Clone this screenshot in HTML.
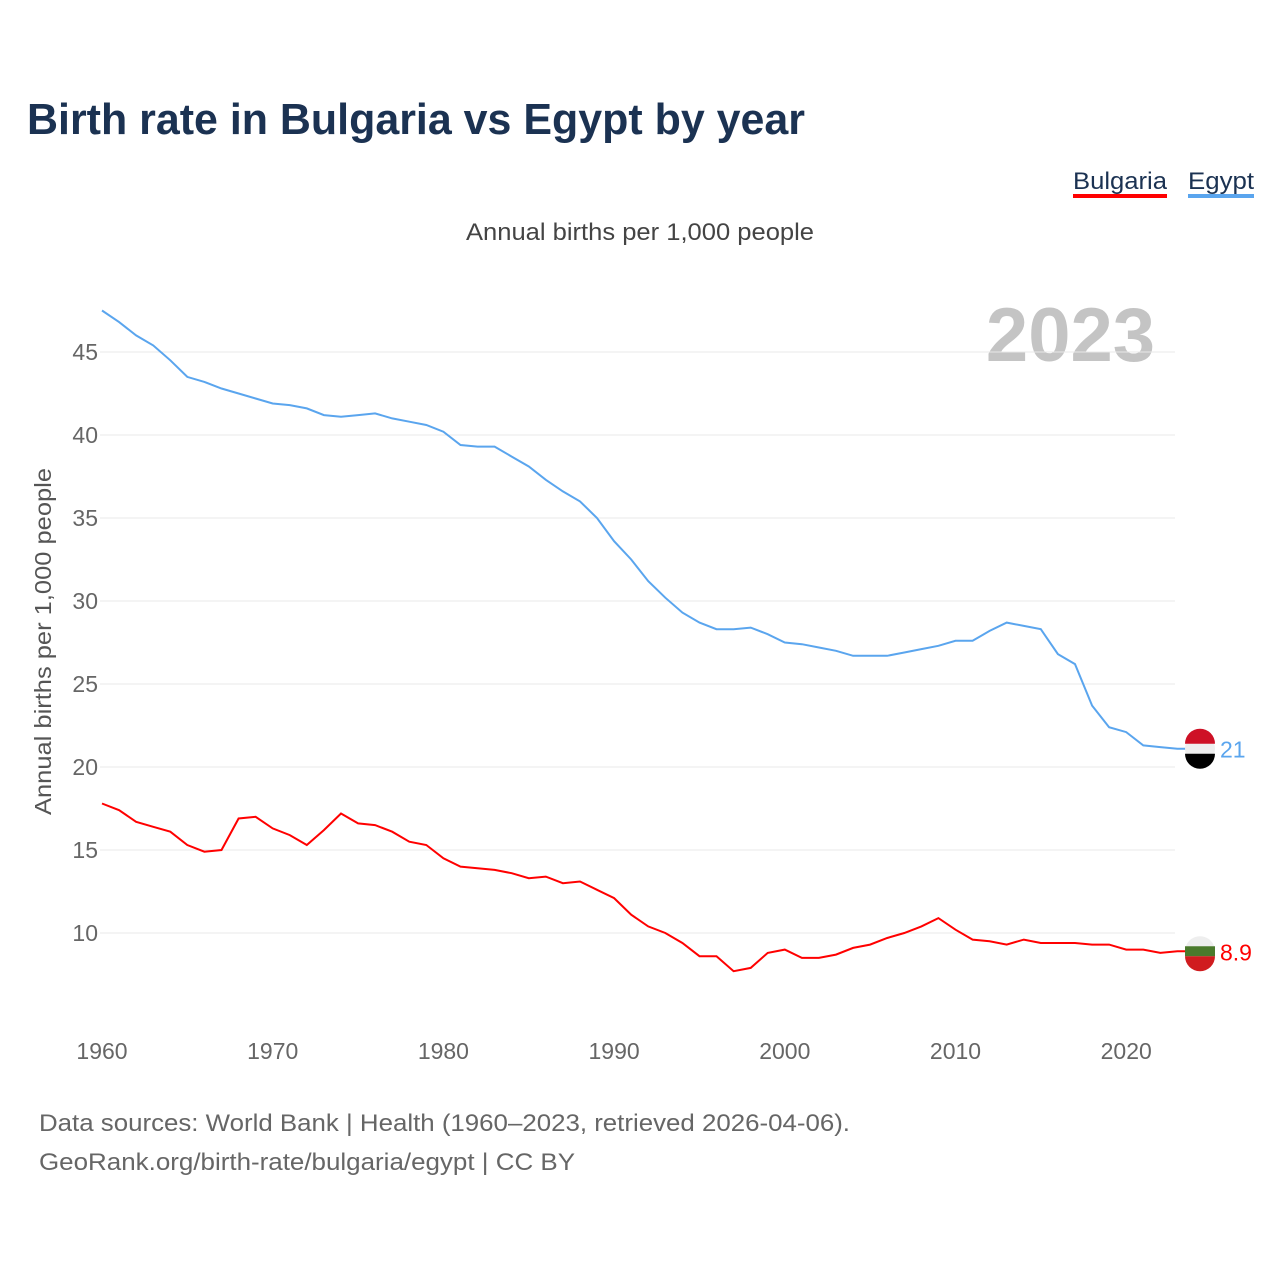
<!DOCTYPE html>
<html><head><meta charset="utf-8"><style>
body{margin:0;background:#fff;font-family:"Liberation Sans",sans-serif}
svg text{font-family:"Liberation Sans",sans-serif}
</style></head><body>
<svg id="chart" width="1280" height="1280" xmlns="http://www.w3.org/2000/svg">
<text x="27" y="134" font-size="44" font-weight="bold" fill="#1b3252" textLength="778" lengthAdjust="spacingAndGlyphs">Birth rate in Bulgaria vs Egypt by year</text>
<g><text x="1073" y="189" font-size="24" fill="#1b3252" textLength="94" lengthAdjust="spacingAndGlyphs">Bulgaria</text><rect x="1073" y="194" width="94" height="4" fill="#ff0000"/></g>
<g><text x="1188" y="189" font-size="24" fill="#1b3252" textLength="66" lengthAdjust="spacingAndGlyphs">Egypt</text><rect x="1188" y="194" width="66" height="4" fill="#5aa5ee"/></g>
<text x="466" y="240" font-size="24" fill="#444" textLength="348" lengthAdjust="spacingAndGlyphs">Annual births per 1,000 people</text>
<text x="1155" y="361" font-size="76" font-weight="bold" fill="#c4c4c4" text-anchor="end">2023</text>
<text transform="translate(51,815) rotate(-90)" font-size="23" fill="#555" textLength="347" lengthAdjust="spacingAndGlyphs">Annual births per 1,000 people</text>
<g id="grid"></g><g id="yticks"></g><g id="xticks"></g><g id="series"></g>
<text x="39" y="1131" font-size="24" fill="#666" textLength="811" lengthAdjust="spacingAndGlyphs">Data sources: World Bank | Health (1960–2023, retrieved 2026-04-06).</text>
<text x="39" y="1170" font-size="24" fill="#666" textLength="536" lengthAdjust="spacingAndGlyphs">GeoRank.org/birth-rate/bulgaria/egypt | CC BY</text>
</svg>
<script>
const years=[];for(let y=1960;y<=2023;y++)years.push(y);
const egypt=[47.5,46.8,46.0,45.4,44.5,43.5,43.2,42.8,42.5,42.2,41.9,41.8,41.6,41.2,41.1,41.2,41.3,41.0,40.8,40.6,40.2,39.4,39.3,39.3,38.7,38.1,37.3,36.6,36.0,35.0,33.6,32.5,31.2,30.2,29.3,28.7,28.3,28.3,28.4,28.0,27.5,27.4,27.2,27.0,26.7,26.7,26.7,26.9,27.1,27.3,27.6,27.6,28.2,28.7,28.5,28.3,26.8,26.2,23.7,22.4,22.1,21.3,21.2,21.1];
const bulgaria=[17.8,17.4,16.7,16.4,16.1,15.3,14.9,15.0,16.9,17.0,16.3,15.9,15.3,16.2,17.2,16.6,16.5,16.1,15.5,15.3,14.5,14.0,13.9,13.8,13.6,13.3,13.4,13.0,13.1,12.6,12.1,11.1,10.4,10.0,9.4,8.6,8.6,7.7,7.9,8.8,9.0,8.5,8.5,8.7,9.1,9.3,9.7,10.0,10.4,10.9,10.2,9.6,9.5,9.3,9.6,9.4,9.4,9.4,9.3,9.3,9.0,9.0,8.8,8.9];
const yTicks=[10,15,20,25,30,35,40,45];
const xTicks=[1960,1970,1980,1990,2000,2010,2020];
const NS="http://www.w3.org/2000/svg";
const X=y=>102+(y-1960)*17.07, Y=v=>933-(v-10)*16.6;
function mk(t,a,p){const e=document.createElementNS(NS,t);for(const k in a)e.setAttribute(k,a[k]);document.getElementById(p).appendChild(e);return e;}
yTicks.forEach(v=>{
 const l=mk('line',{x1:100,x2:1175,y1:Y(v),y2:Y(v),stroke:'#e8e8e8','stroke-width':1},'grid');
 
 
 const t=mk('text',{x:98,y:Y(v)+8,'font-size':23,fill:'#666','text-anchor':'end'},'yticks');t.textContent=v;
 
 
});
xTicks.forEach(v=>{
 const t=mk('text',{x:X(v),y:1059,'font-size':23,fill:'#666','text-anchor':'middle'},'xticks');t.textContent=v;
 
 
});
function series(vals,color,name,label){
 const d=vals.map((v,i)=>(i?'L':'M')+X(years[i]).toFixed(1)+','+Y(v).toFixed(1)).join(' ')+' L1200,'+Y(vals[vals.length-1]).toFixed(1);
 const p=mk('path',{d:d,fill:'none',stroke:color,'stroke-width':2},'series');
 
 
 const yy=Y(vals[vals.length-1]);
 const c=mk('circle',{cx:1200,cy:yy,r:15,fill:'#eee'},'series');
 
 
 if(name==='egypt'){mk('path',{d:`M1185,${yy-5} A15,15 0 0 1 1215,${yy-5} Z`,fill:'#ce1126'},'series');mk('path',{d:`M1185,${yy+5} A15,15 0 0 0 1215,${yy+5} Z`,fill:'#000'},'series');}
 else{mk('rect',{x:1185,y:yy-5,width:30,height:10,fill:'#4a7a2c'},'series');mk('path',{d:`M1185,${yy+5} A15,15 0 0 0 1215,${yy+5} Z`,fill:'#d01c1f'},'series');}
 const t=mk('text',{x:1220,y:yy+9,'font-size':23,fill:color},'series');t.textContent=label;
 
 
}
series(egypt,'#5aa5ee','egypt','21');
series(bulgaria,'#ff0000','bulgaria','8.9');
</script>
</body></html>
